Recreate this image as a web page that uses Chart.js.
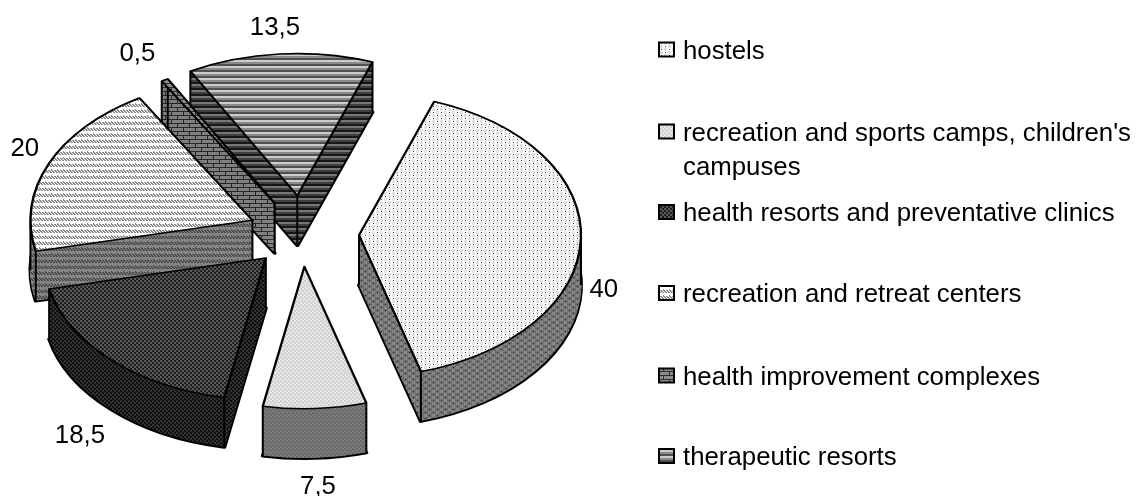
<!DOCTYPE html>
<html>
<head>
<meta charset="utf-8">
<title>Pie</title>
<style>
  html, body { margin: 0; padding: 0; background: #fff; }
  canvas { display: block; }
</style>
<script src="https://cdn.jsdelivr.net/npm/chart.js@4"></script>
</head>
<body>
<canvas id="pie" width="1136" height="496"></canvas>
<script>
const categories = [
  "hostels",
  "recreation and sports camps, children's campuses",
  "health resorts and preventative clinics",
  "recreation and retreat centers",
  "health improvement complexes",
  "therapeutic resorts",
];
const shares = [40, 7.5, 18.5, 20, 0.5, 13.5];

// layout of the pie
const centerX = 302;
const centerY = 234;
const radiusX = 222;
const squash = 0.64;
const depth = 50;
const firstAngle = 19.8;
const explode = [57, 51, 52, 54, 55, 60];
const drawOrder = [5, 4, 3, 2, 0, 1];
const labelGap = 25;
const labelNudge = [[-2, -1], [2, 3], [-14, 8], [-1, -5], [-15, -4], [-3, -1]];

// legend rows, the second one wraps
const legendX = 659;
const legendTextX = 683;
const legendRows = [49.5, 131.5, 212, 293, 375.5, 456];
const legendLines = [
  ["hostels"],
  ["recreation and sports camps, children's", "campuses"],
  ["health resorts and preventative clinics"],
  ["recreation and retreat centers"],
  ["health improvement complexes"],
  ["therapeutic resorts"],
];
const font = '25.8px "Liberation Sans", Arial, sans-serif';

function tile(w, h, bg, paint) {
  const c = document.createElement("canvas");
  c.width = w;
  c.height = h;
  const g = c.getContext("2d");
  g.fillStyle = bg;
  g.fillRect(0, 0, w, h);
  paint(g);
  return g.createPattern(c, "repeat");
}

function dots(block, dot) {
  return (g) => {
    g.fillStyle = block;
    g.fillRect(0, 0, 3, 3);
    g.fillRect(4, 3, 3, 3);
    g.fillStyle = dot;
    g.fillRect(5, 1, 1, 1);
    g.fillRect(1, 4, 1, 1);
  };
}

function checks(a, b) {
  return (g) => {
    g.fillStyle = a;
    g.fillRect(0, 0, 2, 2);
    g.fillRect(2, 2, 2, 2);
    g.fillStyle = b;
    g.fillRect(3, 0, 1, 1);
    g.fillRect(1, 3, 1, 1);
  };
}

function waves(ink) {
  return (g) => {
    g.fillStyle = ink;
    for (let i = 0; i < 6; i++) {
      g.fillRect(i, 2 + (i % 3), 2, 1);
    }
    g.fillRect(0, 4, 1, 1);
    g.fillRect(3, 1, 1, 1);
  };
}

function bricks(brick, mortar) {
  return (g) => {
    g.fillStyle = brick;
    g.fillRect(0, 0, 12, 8);
    g.fillStyle = mortar;
    g.fillRect(0, 3, 12, 1);
    g.fillRect(0, 7, 12, 1);
    g.fillRect(3, 0, 1, 3);
    g.fillRect(9, 4, 1, 3);
  };
}

function stripes(a, b, c) {
  return (g) => {
    g.fillStyle = a;
    g.fillRect(0, 0, 6, 2);
    g.fillStyle = b;
    g.fillRect(0, 2, 6, 2);
    g.fillStyle = c;
    g.fillRect(0, 4, 6, 2);
  };
}

const topFills = [
  tile(8, 6, "#ffffff", dots("#e0e0e0", "#333333")),
  tile(4, 4, "#e2e2e2", checks("#d0d0d0", "#f2f2f2")),
  tile(4, 4, "#262626", checks("#585858", "#0c0c0c")),
  tile(6, 6, "#ffffff", waves("#8a8a8a")),
  tile(12, 8, "#8c8c8c", bricks("#8c8c8c", "#2e2e2e")),
  tile(6, 6, "#9a9a9a", stripes("#cccccc", "#8a8a8a", "#505050")),
];
const sideFills = [
  tile(8, 6, "#707070", dots("#868686", "#222222")),
  tile(4, 4, "#787878", checks("#6a6a6a", "#8a8a8a")),
  tile(4, 4, "#161616", checks("#323232", "#080808")),
  tile(6, 6, "#858585", waves("#4c4c4c")),
  tile(12, 8, "#808080", bricks("#808080", "#262626")),
  tile(6, 6, "#4c4c4c", stripes("#787878", "#404040", "#181818")),
];

function paintArc(ctx, arc, fill, borderWidth, borderColor) {
  const ghost = Object.create(arc);
  ghost.options = Object.assign({}, arc.options, {
    backgroundColor: fill,
    borderWidth: borderWidth,
    borderColor: borderColor,
  });
  if (fill instanceof CanvasPattern) {
    fill.setTransform(ctx.getTransform().inverse());
  }
  ghost.draw(ctx);
}

function placeSlice(ctx, arc, i, drop) {
  const mid = (arc.startAngle + arc.endAngle) / 2;
  ctx.translate(centerX, centerY + drop);
  ctx.scale(1, squash);
  ctx.translate(
    Math.cos(mid) * explode[i] - arc.x,
    Math.sin(mid) * explode[i] - arc.y
  );
}

// where a rim or centre point of an exploded slice lands on the page
function rimPoint(arc, i, angle, r) {
  const mid = (arc.startAngle + arc.endAngle) / 2;
  return {
    x: centerX + Math.cos(mid) * explode[i] + Math.cos(angle) * r,
    y: centerY + squash * (Math.sin(mid) * explode[i] + Math.sin(angle) * r),
  };
}

function wallEdges(ctx, arc, i) {
  const r = arc.outerRadius;
  const points = [
    rimPoint(arc, i, 0, 0),
    rimPoint(arc, i, arc.startAngle, r),
    rimPoint(arc, i, arc.endAngle, r),
  ];
  for (let turn = -2; turn <= 2; turn++) {
    [0, Math.PI].forEach((a) => {
      const angle = a + turn * 2 * Math.PI;
      if (angle > arc.startAngle && angle < arc.endAngle) {
        points.push(rimPoint(arc, i, angle, r));
      }
    });
  }
  ctx.strokeStyle = "#000";
  ctx.lineWidth = 2;
  points.forEach((p) => {
    ctx.beginPath();
    ctx.moveTo(p.x, p.y);
    ctx.lineTo(p.x, p.y + depth);
    ctx.stroke();
  });
}

const pie3d = {
  id: "pie3d",
  beforeDatasetsDraw(chart) {
    const ctx = chart.ctx;
    const arcs = chart.getDatasetMeta(0).data;
    drawOrder.forEach((i) => {
      const arc = arcs[i];
      // floor with a heavy outline: the sweep above hides all of it but the silhouette
      ctx.save();
      placeSlice(ctx, arc, i, depth);
      paintArc(ctx, arc, sideFills[i], 4, "#000");
      ctx.restore();
      for (let d = depth - 1; d > 0; d--) {
        ctx.save();
        placeSlice(ctx, arc, i, d);
        paintArc(ctx, arc, sideFills[i], 1, sideFills[i]);
        ctx.restore();
      }
      wallEdges(ctx, arc, i);
      ctx.save();
      placeSlice(ctx, arc, i, 0);
      paintArc(ctx, arc, topFills[i], 2.4, "#000");
      ctx.restore();
    });
    return false;
  },
  afterDraw(chart) {
    const ctx = chart.ctx;
    const arcs = chart.getDatasetMeta(0).data;
    ctx.save();
    ctx.font = font;
    ctx.fillStyle = "#000";
    ctx.textBaseline = "middle";

    // value labels sit just outside the rim of each slice
    ctx.textAlign = "center";
    shares.forEach((value, i) => {
      const arc = arcs[i];
      const mid = (arc.startAngle + arc.endAngle) / 2;
      const rim = rimPoint(arc, i, mid, arc.outerRadius);
      const below = Math.sin(mid) > 0 ? depth : 0;
      ctx.fillText(
        String(value).replace(".", ","),
        rim.x + Math.cos(mid) * labelGap + labelNudge[i][0],
        rim.y + Math.sin(mid) * labelGap + below + labelNudge[i][1]
      );
    });

    // legend
    ctx.textAlign = "left";
    legendLines.forEach((lines, i) => {
      const y = legendRows[i];
      const fill = topFills[i];
      fill.setTransform(new DOMMatrix());
      ctx.fillStyle = fill;
      ctx.fillRect(legendX, y - 7, 15, 14);
      ctx.strokeStyle = "#000";
      ctx.lineWidth = 2;
      ctx.strokeRect(legendX, y - 7, 15, 14);
      ctx.fillStyle = "#000";
      lines.forEach((line, k) => {
        ctx.fillText(line, legendTextX, y + 2 + k * 34);
      });
    });
    ctx.restore();
  },
};

new Chart(document.getElementById("pie"), {
  type: "pie",
  data: {
    labels: categories,
    datasets: [
      {
        data: shares,
        backgroundColor: "#fff",
        borderColor: "#000",
        borderWidth: 2,
        borderJoinStyle: "round",
      },
    ],
  },
  options: {
    responsive: false,
    animation: false,
    rotation: firstAngle,
    radius: radiusX,
    layout: { padding: 0 },
    plugins: {
      legend: { display: false },
      tooltip: { enabled: false },
    },
  },
  plugins: [pie3d],
});
</script>
</body>
</html>
